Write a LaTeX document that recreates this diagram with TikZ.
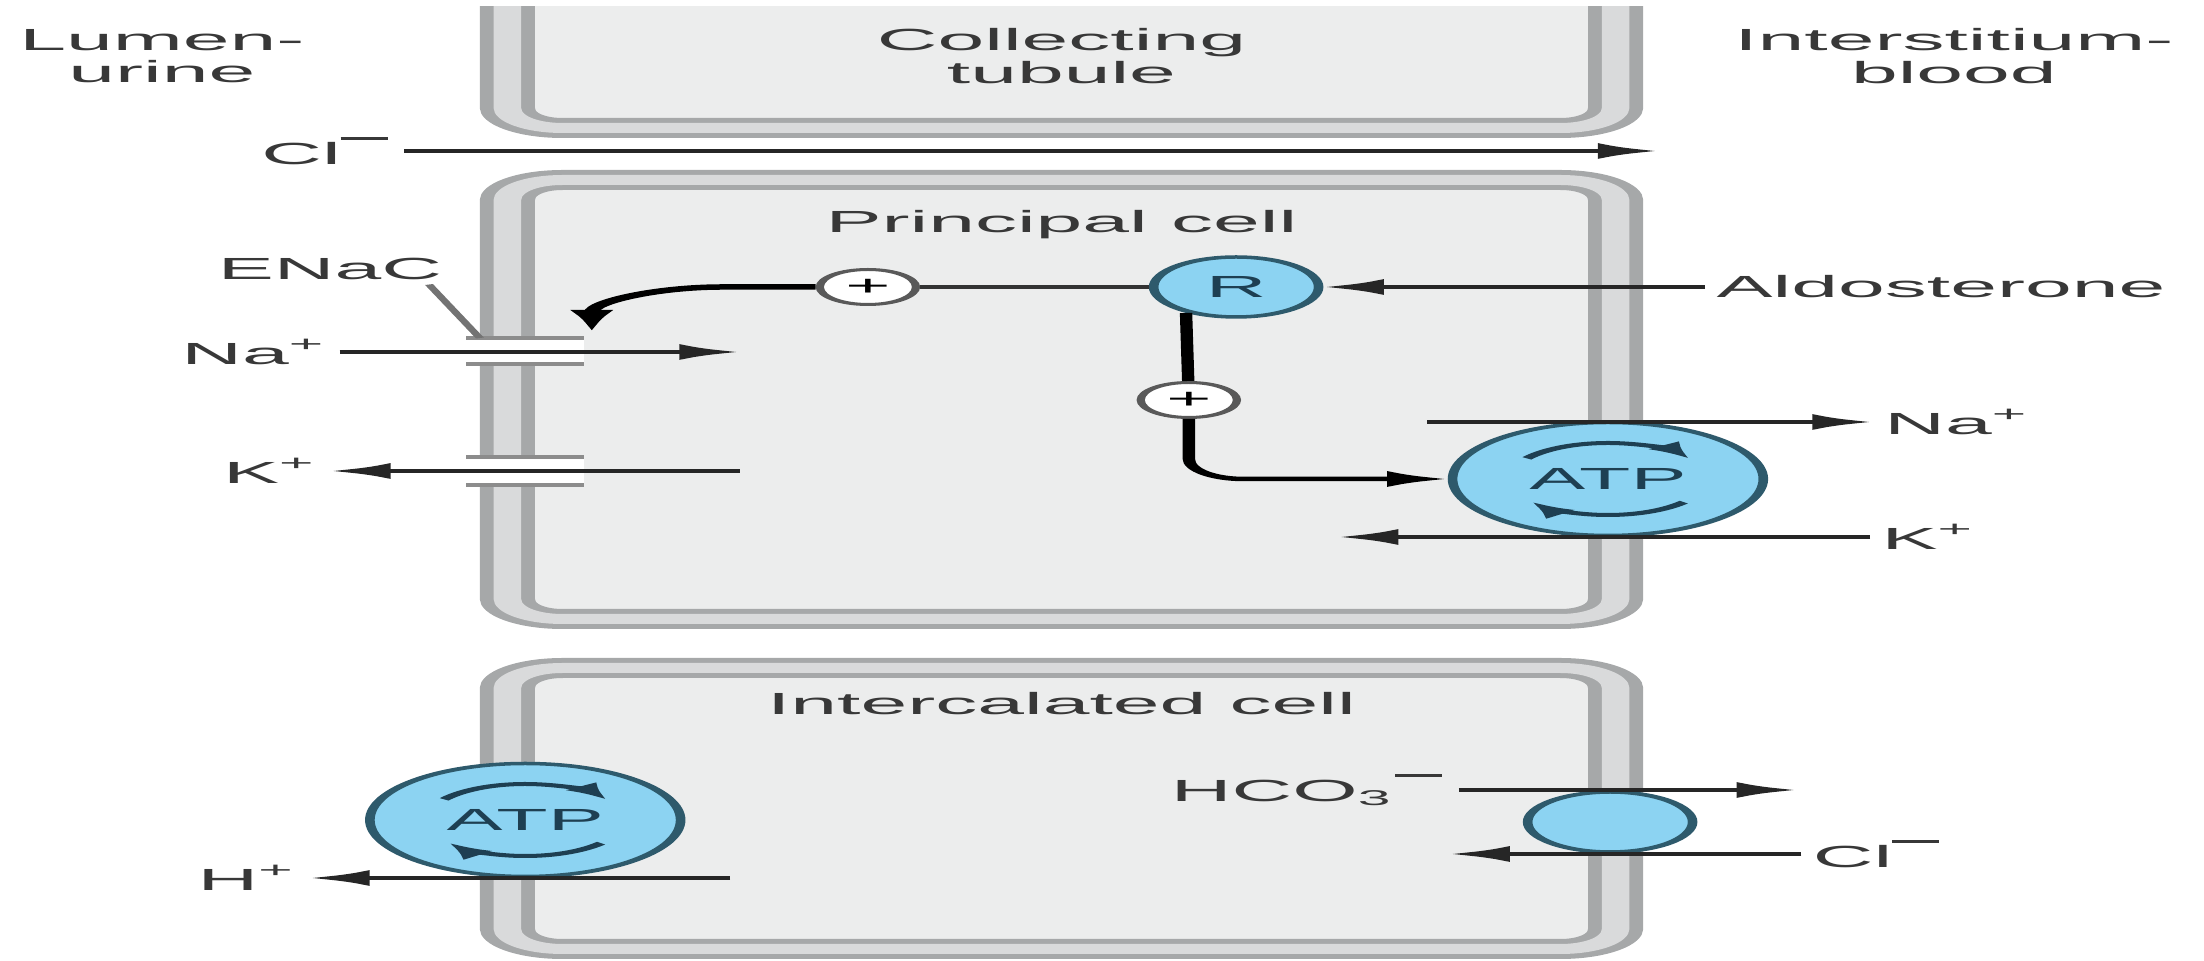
\documentclass[tikz,border=0pt]{standalone}
\usepackage{fontspec}
\setmainfont{Liberation Sans}
\usetikzlibrary{arrows.meta}

\definecolor{cellfill}{HTML}{ECEDED}
\definecolor{wallout}{HTML}{A6A8A9}
\definecolor{wallin}{HTML}{D9DADB}
\definecolor{pumpblue}{HTML}{8CD3F2}
\definecolor{pumpedge}{HTML}{2E5A6C}
\definecolor{pumptext}{HTML}{1E3F52}
\definecolor{labelgray}{HTML}{383838}

% charge bar for anions, set at cap height
\newcommand{\anion}{\textsuperscript{\rule[1ex]{0.8em}{0.25ex}}}

\begin{document}
\begin{tikzpicture}[
    >={Latex[length=2.2mm,width=1.6mm]},
    wall/.style={
        draw=wallout, line width=0.5mm, double=wallin, double distance=1mm,
        fill=cellfill, rounded corners=2mm
    },
    lbl/.style={
        font=\fontsize{8.7}{9.3}\selectfont, text=labelgray,
        inner sep=1pt, align=center
    },
    flow/.style={->, line width=0.45mm, draw=black!85},
    signalline/.style={line width=0.45mm, draw=black!80},
    pump/.style={
        circle, draw=pumpedge, line width=0.35mm, fill=pumpblue,
        minimum size=#1, inner sep=0pt,
        font=\fontsize{8.7}{9.3}\selectfont, text=pumptext
    },
    plusmark/.style={
        circle, draw=black!65, line width=0.3mm, fill=white,
        minimum size=3.5mm, inner sep=0pt, font=\footnotesize
    },
    pore/.style={draw=black!45, line width=0.4mm},
    turn/.style={-{Latex[length=1.6mm,width=1.4mm]}, line width=0.4mm, draw=pumptext},
]

% fixed page size; the drawing itself is stretched sideways
\useasboundingbox (0,0) rectangle (22.04,9.61);

\begin{scope}[transform canvas={xscale=2.75}]

% ── Cells ─────────────────────────────────────────────────────
\begin{scope}
    \clip (0,0) rectangle (8.02,9.54);
    \draw[wall] (1.845,8.33) rectangle (5.875,10.2);
\end{scope}
\draw[wall] (1.845,3.42) rectangle (5.875,7.81);
\draw[wall] (1.845,0.12) rectangle (5.875,2.93);

% ── Pores in the apical membrane ─────────────────────────────
\fill[white] (1.695,5.97) rectangle (2.124,6.23);
\draw[pore] (1.695,6.23) -- (2.124,6.23);
\draw[pore] (1.695,5.97) -- (2.124,5.97);
\fill[white] (1.695,4.76) rectangle (2.124,5.04);
\draw[pore] (1.695,5.04) -- (2.124,5.04);
\draw[pore] (1.695,4.76) -- (2.124,4.76);
\coordinate (enacTop) at (1.745,6.23);

% ── Headings ─────────────────────────────────────────────────
\node[lbl] (lumen)  at (0.589,9.05) {Lumen-\\urine};
\node[lbl] (tubule) at (3.86,9.05)  {Collecting\\tubule};
\node[lbl] (blood)  at (7.105,9.05) {Interstitium-\\blood};
\node[lbl, anchor=base] (princ) at (3.86,7.28) {Principal cell};
\node[lbl, anchor=base] (inter) at (3.86,2.46) {Intercalated cell};

% ── Paracellular Cl- ─────────────────────────────────────────
\node[lbl, anchor=east] (clTop) at (1.47,8.1) {Cl\anion};
\coordinate (clEnd) at (6.03,8.1);
\draw[flow] (clTop) -- (clEnd);

% ── Principal cell ───────────────────────────────────────────
\node[lbl, anchor=base] (enac) at (1.2,6.81) {ENaC};
\draw[pore, draw=black!55, line width=0.3mm] ([xshift=-0.9mm]enac.south east) -- (enacTop);

\node[lbl, anchor=east] (naL) at (1.235,6.09) {Na\textsuperscript{+}};
\coordinate (naIn) at (2.69,6.09);
\draw[flow] (naL) -- (naIn);

\node[lbl, anchor=east] (kL) at (1.2,4.90) {K\textsuperscript{+}};
\coordinate (kIn) at (2.69,4.90);
\draw[flow] (kIn) -- (kL);

\node[pump=6mm] (rec) at (4.495,6.74) {R};
\node[lbl, anchor=west] (aldo) at (6.2,6.74) {Aldosterone};
\draw[flow] (aldo) -- (rec);

\node[plusmark] (plusA) at (3.156,6.74) {+};
\node[plusmark] (plusB) at (4.323,5.61) {+};
\coordinate (enacIn) at (2.152,6.29);
\draw[signalline] (rec) -- (plusA);
\draw[flow, line width=0.55mm, draw=black] (plusA) -- ++(-0.53,0)
    .. controls +(-0.24,0) and +(0,0.3) .. (enacIn);

\node[pump=11.3mm] (atpP) at (5.847,4.82) {ATP};
\draw[signalline, draw=black] (rec.235) -- (plusB);
\draw[flow, draw=black, rounded corners=2mm] (plusB) |- (atpP);
\draw[turn] ([shift={(145:3.6mm)}]atpP.center) arc[start angle=145, end angle=35, radius=3.6mm];
\draw[turn] ([shift={(-40:3.6mm)}]atpP.center) arc[start angle=-40, end angle=-140, radius=3.6mm];

\node[lbl, anchor=west] (naR) at (6.81,5.39) {Na\textsuperscript{+}};
\coordinate (naOut) at (5.19,5.39);
\draw[flow] (naOut) -- (naR);

\node[lbl, anchor=west] (kR) at (6.8,4.24) {K\textsuperscript{+}};
\coordinate (kOut) at (4.865,4.24);
\draw[flow] (kR) -- (kOut);

% ── Intercalated cell ────────────────────────────────────────
\node[pump=11.3mm] (atpI) at (1.91,1.41) {ATP};
\draw[turn] ([shift={(145:3.6mm)}]atpI.center) arc[start angle=145, end angle=35, radius=3.6mm];
\draw[turn] ([shift={(-40:3.6mm)}]atpI.center) arc[start angle=-40, end angle=-140, radius=3.6mm];

\node[lbl, anchor=east] (hL) at (1.124,0.83) {H\textsuperscript{+}};
\coordinate (hIn) at (2.655,0.83);
\draw[flow] (hIn) -- (hL);

\node[pump=6mm] (exch) at (5.855,1.39) {};
\node[lbl, anchor=east] (hco) at (5.305,1.71) {HCO\textsubscript{3}\anion};
\coordinate (hcoOut) at (6.535,1.71);
\draw[flow] (hco) -- (hcoOut);

\node[lbl, anchor=west] (clR) at (6.55,1.07) {Cl\anion};
\coordinate (clIn) at (5.27,1.07);
\draw[flow] (clR) -- (clIn);

\end{scope}
\end{tikzpicture}
\end{document}
